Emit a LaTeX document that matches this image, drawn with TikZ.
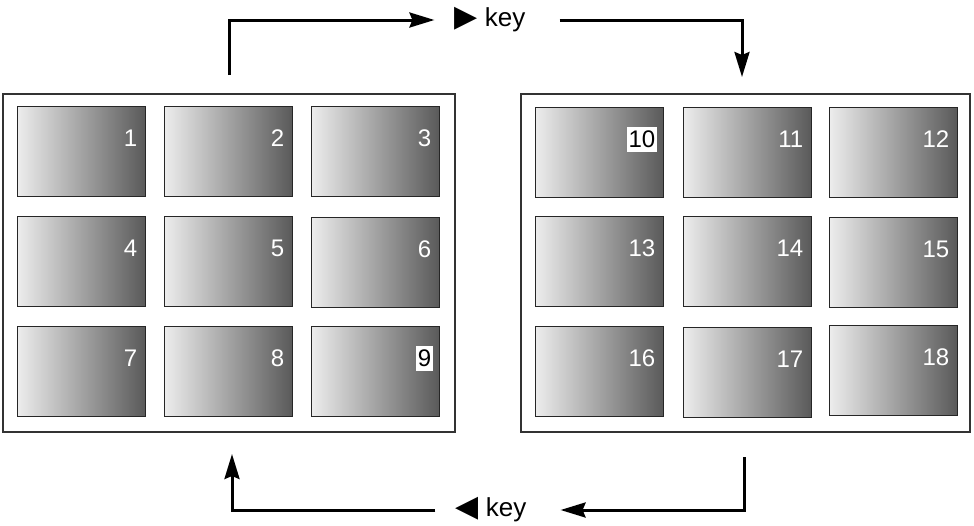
\documentclass[tikz,border=0pt]{standalone}
\usepackage{fontspec}
\setmainfont{Liberation Sans}
\newfontfamily\symfont{DejaVu Sans}
\usepackage{xcolor}
\usetikzlibrary{arrows.meta}

\definecolor{tilelight}{HTML}{EDEDED}
\definecolor{tiledark}{HTML}{5A5A5A}
\definecolor{framegray}{HTML}{333333}

\tikzset{
  frame/.style={draw=framegray,line width=1.3pt},
  tile/.style={draw=black!85,line width=1pt,minimum width=128pt,minimum height=90pt,
    left color=tilelight,right color=tiledark,inner sep=0pt},
  num/.style={anchor=east,xshift=-6pt,yshift=-33pt,text=white,inner xsep=2pt,inner ysep=4pt,
    font=\fontsize{24}{28}\selectfont},
  hinum/.style={num,fill=white,text=black},
  keylbl/.style={font=\fontsize{26}{30}\selectfont,inner xsep=20pt,inner ysep=2pt},
  arr/.style={line width=3pt,-{Stealth[length=25pt,width=15pt,inset=3pt]}}
}

\begin{document}
\begin{tikzpicture}[x=1pt,y=-1pt]
\useasboundingbox (0,0) rectangle (974,525);
% the two pages
\node[frame,minimum width=452pt,minimum height=338pt] (pgA) at (229,263) {};
\node[frame,minimum width=449pt,minimum height=338pt] (pgB) at (745.5,263) {};
% left page
\node[tile] (n1) at (81,151) {}; \node[num] at (n1.north east) {1};
\node[tile] (n2) at (228,151) {}; \node[num] at (n2.north east) {2};
\node[tile] (n3) at (375,151) {}; \node[num] at (n3.north east) {3};
\node[tile] (n4) at (81,261) {}; \node[num] at (n4.north east) {4};
\node[tile] (n5) at (228,261) {}; \node[num] at (n5.north east) {5};
\node[tile] (n6) at (375,262) {}; \node[num] at (n6.north east) {6};
\node[tile] (n7) at (81,371) {}; \node[num] at (n7.north east) {7};
\node[tile] (n8) at (228,371) {}; \node[num] at (n8.north east) {8};
\node[tile] (n9) at (375,371) {}; \node[hinum] at (n9.north east) {9};
% right page
\node[tile] (n10) at (599,152) {}; \node[hinum] at (n10.north east) {10};
\node[tile] (n11) at (747,152) {}; \node[num] at (n11.north east) {11};
\node[tile] (n12) at (893,152) {}; \node[num] at (n12.north east) {12};
\node[tile] (n13) at (599,261) {}; \node[num] at (n13.north east) {13};
\node[tile] (n14) at (747,261) {}; \node[num] at (n14.north east) {14};
\node[tile] (n15) at (893,262) {}; \node[num] at (n15.north east) {15};
\node[tile] (n16) at (599,371) {}; \node[num] at (n16.north east) {16};
\node[tile] (n17) at (747,372) {}; \node[num] at (n17.north east) {17};
\node[tile] (n18) at (893,370) {}; \node[num] at (n18.north east) {18};
% key labels
\node[keylbl] (kfwd) at (490,20) {{\symfont\fontsize{30}{30}\selectfont ▶} key};
\node[keylbl] (kback) at (491,510) {{\symfont\fontsize{30}{30}\selectfont ◀} key};
\coordinate (a1) at (229,75);
\coordinate (a2) at (742,77);
\coordinate (b1) at (744,457);
\coordinate (b2) at (232,454);
% connectors
\draw[arr] (a1) |- (kfwd);
\draw[arr,shorten <=14pt] (kfwd) -| (a2);
\draw[arr,shorten >=14pt] (b1) |- (kback);
\draw[arr] (kback) -| (b2);
\end{tikzpicture}
\end{document}
